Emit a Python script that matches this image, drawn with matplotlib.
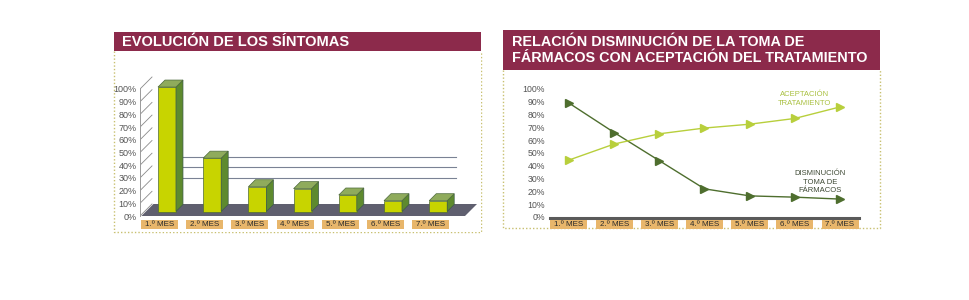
import matplotlib.pyplot as plt
from matplotlib.patches import Rectangle, Polygon

plt.rcParams['font.family'] = ['Liberation Sans', 'DejaVu Sans']

meses = ["1.º MES", "2.º MES", "3.º MES", "4.º MES", "5.º MES", "6.º MES", "7.º MES"]
sintomas = [98, 42, 19.5, 18, 13, 8.5, 8.5]
farmacos = [89, 66, 44, 22, 16.5, 15.5, 14]
aceptacion = [44.5, 57, 65, 69.5, 72.5, 77, 86]
yticks = list(range(0, 101, 10))

MAROON = "#8c2a4b"
BORDER = "#c8c070"
TAG = "#e8b66b"
TXT = "#555555"

W, H = 970, 300
fig = plt.figure(figsize=(W / 100, H / 100), dpi=100)


def px_axes(x0, y0, x1, y1):
    return fig.add_axes([x0 / W, 1 - y1 / H, (x1 - x0) / W, (y1 - y0) / H])


# decoration layer in pixel coords
deco = fig.add_axes([0, 0, 1, 1])
deco.set_xlim(0, W)
deco.set_ylim(H, 0)
deco.axis("off")

for (x0, x1, ytop, ybar, ybot) in [(114, 481, 32, 51, 232), (503, 880, 30, 70, 228)]:
    deco.add_patch(Rectangle((x0, ytop), x1 - x0, ybar - ytop, color=MAROON, lw=0))
    deco.plot([x0, x0, x1, x1], [ybar, ybot, ybot, ybar], ls=(0, (1, 1.5)),
              color=BORDER, lw=1)

deco.text(122, 42.5, "EVOLUCIÓN DE LOS SÍNTOMAS", color="white", fontsize=10.5,
          fontweight="bold", va="center", ha="left")
deco.text(512, 50, "RELACIÓN DISMINUCIÓN DE LA TOMA DE\nFÁRMACOS CON ACEPTACIÓN DEL TRATAMIENTO",
          color="white", fontsize=10.4, fontweight="bold", va="center", ha="left",
          linespacing=1.15)

# ---------------- left: 3D bars ----------------
sx, sy = 45.2, 1.27  # px per unit
ax = px_axes(140, 52, 481, 232)
ax.set_xlim(-0.431, (481 - 159.5) / sx)
ax.set_ylim((216 - 232) / sy, (216 - 52) / sy)
for s in ["top", "right", "bottom"]:
    ax.spines[s].set_visible(False)
ax.spines["left"].set_bounds(0, 100)
ax.spines["left"].set_color("#9a9a9a")
ax.spines["left"].set_linewidth(0.7)
ax.set_xticks([])
ax.set_yticks(yticks, [f"{v}%" for v in yticks])
ax.tick_params(axis="y", length=0, pad=2.5, labelsize=6.5, labelcolor=TXT)

DX, DY = 12 / sx, 12 / sy
x0 = -0.431
for v in yticks:
    ax.plot([x0, x0 + DX], [v, v + DY], color="#8a8a8a", lw=0.6, zorder=1)

for lv in [20.5, 29, 37]:
    ax.plot([0.23, 6.56], [lv + DY, lv + DY], color="#7a8294", lw=0.8, zorder=1)

fl, fr = -0.4, (465 - 159.5) / sx
ax.add_patch(Polygon([(fl, 0), (fr, 0), (fr + DX, DY), (fl + DX, DY)],
                     closed=True, color="#5f5f6f", lw=0, zorder=2))

bw = 18 / sx
bx, by = 7.5 / sx, 4.5 / sy
ox, oy = 7 / sx, 7 / sy
for i, v in enumerate(sintomas):
    left = i + bx - bw / 2
    right = left + bw
    ax.add_patch(Rectangle((left, by), bw, v, facecolor="#c8d400",
                           edgecolor="#4d6a3a", lw=0.5, zorder=3))
    ax.add_patch(Polygon([(right, by), (right + ox, by + oy), (right + ox, by + v + oy),
                          (right, by + v)], closed=True, facecolor="#5e8a2e",
                         edgecolor="#3d5a4a", lw=0.5, zorder=3))
    ax.add_patch(Polygon([(left, by + v), (right, by + v), (right + ox, by + v + oy),
                          (left + ox, by + v + oy)], closed=True, facecolor="#8fab5c",
                         edgecolor="#4d6a3a", lw=0.5, zorder=3))

tw, th = 37 / sx, 9.5 / sy
for i, m in enumerate(meses):
    yc = (216 - 224.5) / sy
    ax.add_patch(Rectangle((i - tw / 2, yc - th / 2), tw, th, color=TAG, lw=0,
                           clip_on=False, zorder=3))
    ax.text(i, yc, m, ha="center", va="center", fontsize=5.8, color="#2a2a2a",
            clip_on=False, zorder=4)

# ---------------- right: lines ----------------
rx, ry = 45.2, 1.28
ax2 = px_axes(550, 85, 859, 218)
ax2.set_xlim(-0.42, 6.42)
ax2.set_ylim((217 - 218) / ry, (217 - 85) / ry)
for s in ["top", "right", "left"]:
    ax2.spines[s].set_visible(False)
ax2.spines["bottom"].set_color("#5a5a5a")
ax2.spines["bottom"].set_linewidth(2.2)
ax2.set_xticks([])
ax2.set_yticks(yticks, [f"{v}%" for v in yticks])
ax2.tick_params(axis="y", length=0, pad=3.6, labelsize=6.3, labelcolor=TXT)

xs = list(range(len(meses)))
ax2.plot(xs, farmacos, color="#4e6e2e", lw=1, marker=">", ms=5.5, clip_on=False)
ax2.plot(xs, aceptacion, color="#b8cf3c", lw=1, marker=">", ms=5.5, clip_on=False)

ax2.text((805 - 569) / rx, (217 - 99) / ry, "ACEPTACIÓN\nTRATAMIENTO", ha="center",
         va="center", fontsize=5.5, color="#a9c040", linespacing=1.35)
ax2.text((820 - 569) / rx, (217 - 182) / ry, "DISMINUCIÓN\nTOMA DE\nFÁRMACOS", ha="center",
         va="center", fontsize=5.5, color="#3f4a35", linespacing=1.35)

tw2, th2 = 37 / rx, 9.5 / ry
for i, m in enumerate(meses):
    yc = (217 - 224.5) / ry
    ax2.add_patch(Rectangle((i - tw2 / 2, yc - th2 / 2), tw2, th2, color=TAG, lw=0,
                            clip_on=False, zorder=3))
    ax2.text(i, yc, m, ha="center", va="center", fontsize=5.8, color="#2a2a2a",
             clip_on=False, zorder=4)

fig.savefig("out.png", dpi=100)
